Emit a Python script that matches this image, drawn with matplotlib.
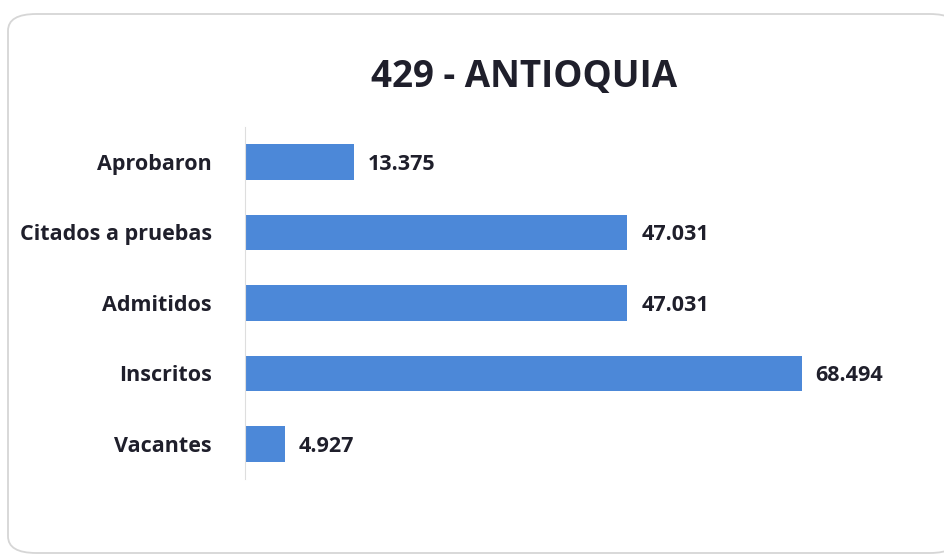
import matplotlib.pyplot as plt
from matplotlib.patches import FancyBboxPatch

# data (bottom to top as drawn)
categories = ['Vacantes', 'Inscritos', 'Admitidos', 'Citados a pruebas', 'Aprobaron']
values = [4927, 68494, 47031, 47031, 13375]
labels = ['4.927', '68.494', '47.031', '47.031', '13.375']
title = '429 - ANTIOQUIA'

plt.rcParams['font.family'] = ['Open Sans', 'DejaVu Sans']
text_color = '#1f1f2b'
bar_color = '#4c88d8'

fig = plt.figure(figsize=(9.44, 5.57), dpi=100)

# rounded frame around the chart (right edge runs off the picture)
frame = FancyBboxPatch((8 / 944, 4 / 557), 950 / 944, 539 / 557,
                       boxstyle='round,pad=0,rounding_size=0.03',
                       transform=fig.transFigure, facecolor='white',
                       edgecolor='#d6d6d6', linewidth=1.3, zorder=-10)
fig.patches.append(frame)

ax = fig.add_axes([245 / 944, 0.1396, 0.689, 0.633])
ax.patch.set_alpha(0)
pos = range(len(categories))
ax.barh(pos, values, height=0.5, color=bar_color)
ax.set_xlim(0, 80000)
ax.set_ylim(-0.5, 4.5)
ax.set_yticks(list(pos))
ax.set_yticklabels(categories, fontsize=15.5, fontweight='bold', color=text_color)
ax.tick_params(axis='y', length=0, pad=24)
ax.set_xticks([])
for s in ['top', 'right', 'bottom']:
    ax.spines[s].set_visible(False)
ax.spines['left'].set_color('#dedede')

for p, v, t in zip(pos, values, labels):
    ax.text(v + 1700, p - 0.03, t, va='center', ha='left', fontsize=15.5,
            fontweight='bold', color=text_color)

fig.text(524 / 944, 1 - 77 / 557, title, ha='center', va='center',
         fontsize=26.5, fontweight='bold', color=text_color)

fig.savefig('out.png', dpi=100)
